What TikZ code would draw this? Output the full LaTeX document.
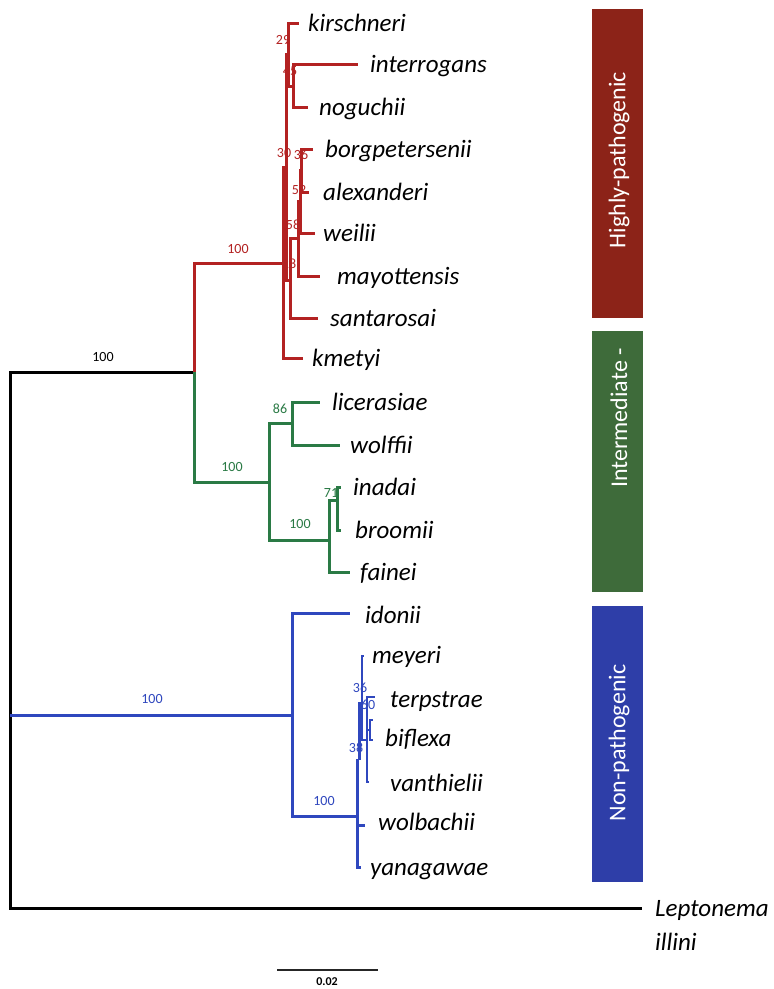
\documentclass[tikz,border=0pt]{standalone}
\usepackage{fontspec}
\setmainfont{Carlito}
\definecolor{tred}{HTML}{B32222}
\definecolor{tgreen}{HTML}{2A7A45}
\definecolor{tblue}{HTML}{2F47BE}
\definecolor{bxred}{HTML}{8C2318}
\definecolor{bxgreen}{HTML}{3E6B3A}
\definecolor{bxblue}{HTML}{2E3EA8}
\begin{document}
\begin{tikzpicture}[x=1pt,y=-1pt,
  redbr/.style={line width=3pt, line join=miter, draw=tred},
  greenbr/.style={line width=3pt, line join=miter, draw=tgreen},
  bluebr/.style={line width=3pt, line join=miter, draw=tblue},
  thinblue/.style={line width=2.2pt, line join=miter, draw=tblue},
  blackbr/.style={line width=3pt, line join=miter, draw=black},
  taxon/.style={anchor=base west, inner sep=0pt, font=\fontsize{25}{30}\selectfont\itshape},
  boot/.style={inner sep=0pt, font=\fontsize{14}{16}\selectfont},
  clade/.style={inner sep=0pt, rotate=90, text=white, font=\fontsize{24}{28}\selectfont},
]
\fill[white] (0,0) rectangle (774,989);
\useasboundingbox (0,0) rectangle (774,989);

% ---------- black root ----------
\coordinate (rt) at (10,372);
\coordinate (rb) at (10,908);
\coordinate (rbl) at (10,715);
\coordinate (ab) at (194,372);
\coordinate (t-lep) at (642,908);
\draw[blackbr] (ab) -- (rt) -- (rb) -- (t-lep);
\node[boot] (b-root) at (103,357) {100};
\node[taxon] (n-lep) at (655,916.5) {Leptonema};
\node[taxon] (n-ill) at (655,950.5) {illini};

% ---------- red clade ----------
\coordinate (A) at (283,263);
\coordinate (B) at (286,167);
\coordinate (C) at (288,54);
\coordinate (E) at (293,86);
\coordinate (D) at (290,280);
\coordinate (F) at (298,238);
\coordinate (G) at (300,201);
\coordinate (H) at (301,170);
\coordinate (t-kir) at (299,23);
\coordinate (t-int) at (358,64);
\coordinate (t-nog) at (308,107);
\coordinate (t-bor) at (313,149);
\coordinate (t-ale) at (309,192);
\coordinate (t-wei) at (315,233);
\coordinate (t-may) at (320,276);
\coordinate (t-san) at (318,318);
\coordinate (t-kme) at (303,358);
\draw[redbr] (ab) |- (A);
\draw[redbr] (A) |- (B);
\draw[redbr] (A) |- (t-kme);
\draw[redbr] (B) |- (C);
\draw[redbr] (B) |- (D);
\draw[redbr] (C) |- (t-kir);
\draw[redbr] (C) |- (E);
\draw[redbr] (E) |- (t-int);
\draw[redbr] (E) |- (t-nog);
\draw[redbr] (D) |- (F);
\draw[redbr] (D) |- (t-san);
\draw[redbr] (F) |- (G);
\draw[redbr] (F) |- (t-may);
\draw[redbr] (G) |- (H);
\draw[redbr] (G) |- (t-wei);
\draw[redbr] (H) |- (t-bor);
\draw[redbr] (H) |- (t-ale);
\begin{scope}[every node/.append style={text=tred}]
\node[boot] (b-red) at (238,249) {100};
\node[boot] (b-A) at (289,264) {28};
\node[boot] (b-B) at (284,153) {30};
\node[boot] (b-C) at (283,40) {29};
\node[boot] (b-E) at (290,71) {45};
\node[boot] (b-H) at (301,155) {36};
\node[boot] (b-H2) at (299,190) {52};
\node[boot] (b-G) at (293,225) {58};
\end{scope}
\node[taxon] (n-kir) at (308,31.5) {kirschneri};
\node[taxon] (n-int) at (370,72.5) {interrogans};
\node[taxon] (n-nog) at (319,115.5) {noguchii};
\node[taxon] (n-bor) at (325,157.5) {borgpetersenii};
\node[taxon] (n-ale) at (323,200.5) {alexanderi};
\node[taxon] (n-wei) at (323,241.5) {weilii};
\node[taxon] (n-may) at (337,284.5) {mayottensis};
\node[taxon] (n-san) at (330,326.5) {santarosai};
\node[taxon] (n-kme) at (312,366.5) {kmetyi};

% ---------- green clade ----------
\coordinate (G1) at (269,482);
\coordinate (G2) at (292,423);
\coordinate (G3) at (329,540);
\coordinate (G4) at (337,500);
\coordinate (t-lic) at (320,402);
\coordinate (t-wol) at (340,445);
\coordinate (t-ina) at (341,487);
\coordinate (t-bro) at (341,530);
\coordinate (t-fai) at (350,572);
\draw[greenbr] (ab) |- (G1);
\draw[greenbr] (G1) |- (G2);
\draw[greenbr] (G1) |- (G3);
\draw[greenbr] (G2) |- (t-lic);
\draw[greenbr] (G2) |- (t-wol);
\draw[greenbr] (G3) |- (G4);
\draw[greenbr] (G3) |- (t-fai);
\draw[greenbr] (G4) |- (t-ina);
\draw[greenbr] (G4) |- (t-bro);
\begin{scope}[every node/.append style={text=tgreen}]
\node[boot] (b-green) at (232,467) {100};
\node[boot] (b-G2) at (280,409) {86};
\node[boot] (b-G3) at (300,524) {100};
\node[boot] (b-G4) at (331,493) {71};
\end{scope}
\node[taxon] (n-lic) at (332,410.5) {licerasiae};
\node[taxon] (n-wol) at (350,453.5) {wolffii};
\node[taxon] (n-ina) at (353,495.5) {inadai};
\node[taxon] (n-bro) at (355,538.5) {broomii};
\node[taxon] (n-fai) at (360,580.5) {fainei};

% ---------- blue clade ----------
\coordinate (N1) at (292,715);
\coordinate (N2) at (357,816);
\coordinate (N3) at (359,760);
\coordinate (N5) at (362,703);
\coordinate (N7) at (367,740);
\coordinate (N8) at (370,730);
\coordinate (t-ido) at (350,613);
\coordinate (t-mey) at (364,656);
\coordinate (t-ter) at (375,697);
\coordinate (t-bi1) at (373,720);
\coordinate (t-bi2) at (373,740);
\coordinate (t-van) at (369,782);
\coordinate (t-wlb) at (365,825);
\coordinate (t-yan) at (361,867);
\draw[bluebr] (rbl) -- (N1);
\draw[bluebr] (N1) |- (t-ido);
\draw[bluebr] (N1) |- (N2);
\draw[bluebr] (N2) |- (t-yan);
\draw[bluebr] (N2) |- (t-wlb);
\draw[bluebr] (N2) |- (N3);
\draw[bluebr] (N3) |- (N5);
\draw[thinblue] (N5) |- (t-mey);
\draw[thinblue] (N5) |- (N7);
\draw[thinblue] (N7) |- (t-ter);
\draw[thinblue] (N7) |- (N8);
\draw[thinblue] (N7) |- (t-van);
\draw[thinblue] (N8) |- (t-bi1);
\draw[thinblue] (N8) |- (t-bi2);
\begin{scope}[every node/.append style={text=tblue}]
\node[boot] (b-blue) at (152,699) {100};
\node[boot] (b-N2) at (324,801) {100};
\node[boot] (b-N5) at (360,688) {36};
\node[boot] (b-N7) at (368,705) {60};
\node[boot] (b-N3) at (356,748) {38};
\end{scope}
\node[taxon] (n-ido) at (365,623.5) {idonii};
\node[taxon] (n-mey) at (372,663.5) {meyeri};
\node[taxon] (n-ter) at (390,707.5) {terpstrae};
\node[taxon] (n-bif) at (385,746.5) {biflexa};
\node[taxon] (n-van) at (390,791.5) {vanthielii};
\node[taxon] (n-wlb) at (378,830.5) {wolbachii};
\node[taxon] (n-yan) at (370,875.5) {yanagawae};

% ---------- clade boxes ----------
\fill[bxred] (592,9) rectangle (643,318);
\fill[bxgreen] (592,331) rectangle (643,592);
\fill[bxblue] (592,606) rectangle (643,882);
\node[clade] (c-red) at (619,160) {Highly-pathogenic};
\node[clade] (c-green) at (619,418) {Intermediate -};
\node[clade] (c-blue) at (619,743) {Non-pathogenic};

% ---------- scale bar ----------
\coordinate (s1) at (277,970);
\coordinate (s2) at (378,970);
\draw[line width=1.8pt, draw=black!85] (s1) -- (s2);
\node[inner sep=0pt, font=\fontsize{12}{14}\selectfont\bfseries] (s-lab) at (327,982) {0.02};
\end{tikzpicture}
\end{document}
